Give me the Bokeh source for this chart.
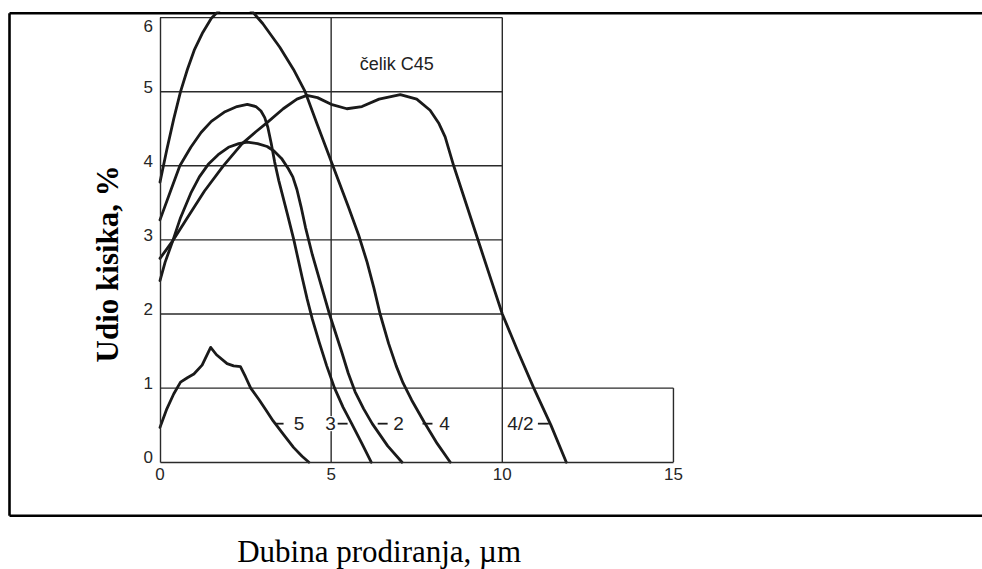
import math
from bokeh.plotting import figure
from bokeh.models import Range1d, FixedTicker, PrintfTickFormatter
from bokeh.core.properties import value
from bokeh.embed import file_html
from bokeh.resources import INLINE

# ---------------- data ----------------
# curve "4"
c4_x = [0, 0.2, 0.4, 0.6, 0.8, 1.0, 1.25, 1.5, 1.8, 2.1, 2.4, 2.7, 3.0, 3.5, 3.9, 4.24,
        4.6, 5.05, 5.5, 5.8, 6.05, 6.25, 6.43, 6.68, 6.9, 7.1, 7.35, 7.72, 8.1, 8.48]
c4_y = [3.78, 4.22, 4.63, 5.0, 5.3, 5.56, 5.8, 5.99, 6.13, 6.2, 6.18, 6.08, 5.92, 5.6, 5.3, 5.0,
        4.55, 4.0, 3.45, 3.07, 2.7, 2.35, 2.0, 1.6, 1.3, 1.07, 0.84, 0.54, 0.25, 0.0]
# curve "3"
c3_x = [0, 0.3, 0.58, 0.9, 1.2, 1.5, 1.9, 2.25, 2.55, 2.8, 2.95, 3.06, 3.15, 3.25, 3.35, 3.47,
        3.72, 3.91, 4.15, 4.3, 4.45, 4.65, 4.87, 5.1, 5.35, 5.6, 5.9, 6.17]
c3_y = [3.27, 3.65, 4.0, 4.25, 4.45, 4.6, 4.73, 4.8, 4.83, 4.8, 4.74, 4.65, 4.52, 4.3, 4.05, 3.8,
        3.35, 3.0, 2.5, 2.2, 1.93, 1.62, 1.3, 1.0, 0.74, 0.52, 0.25, 0.0]
# curve "2"
c2_x = [0, 0.15, 0.36, 0.6, 0.9, 1.15, 1.41, 1.7, 2.0, 2.3, 2.55, 2.85, 3.13, 3.33, 3.55,
        3.75, 3.88, 4.0, 4.12, 4.25, 4.45, 4.7, 4.95, 5.3, 5.5, 5.7, 5.95, 6.2, 6.65, 7.07]
c2_y = [2.45, 2.7, 2.97, 3.3, 3.63, 3.85, 4.02, 4.15, 4.25, 4.3, 4.32, 4.3, 4.26, 4.2, 4.1,
        3.96, 3.85, 3.68, 3.45, 3.17, 2.8, 2.4, 2.0, 1.5, 1.2, 0.95, 0.72, 0.52, 0.22, 0.0]
# curve "4/2"
c42_x = [0, 0.36, 0.8, 1.3, 1.85, 2.4, 2.8, 3.12, 3.6, 4.0, 4.29, 4.6, 5.0, 5.46, 5.9, 6.4,
         7.02, 7.5, 7.89, 8.15, 8.33, 8.58, 8.97, 9.36, 9.68, 10.0, 10.45, 10.92, 11.42, 11.87]
c42_y = [2.75, 2.98, 3.3, 3.66, 4.0, 4.3, 4.46, 4.58, 4.77, 4.9, 4.95, 4.92, 4.83, 4.77, 4.8, 4.9,
         4.96, 4.9, 4.75, 4.57, 4.39, 4.0, 3.45, 2.9, 2.45, 2.0, 1.5, 1.0, 0.5, 0.0]
# curve "5"
c5_x = [0, 0.2, 0.4, 0.6, 0.8, 0.99, 1.23, 1.48, 1.65, 1.96, 2.15, 2.35, 2.5, 2.65, 2.9,
        3.1, 3.3, 3.6, 3.9, 4.15, 4.35]
c5_y = [0.47, 0.72, 0.92, 1.08, 1.14, 1.19, 1.31, 1.55, 1.45, 1.33, 1.3, 1.29, 1.15, 1.0, 0.84,
        0.7, 0.56, 0.38, 0.2, 0.08, 0.0]

curve_labels = ["5", "3", "2", "4", "4/2"]
label_text_x = [4.06, 4.98, 6.97, 8.31, 10.53]
label_dash_x0 = [3.38, 5.19, 6.36, 7.67, 11.04]
label_dash_x1 = [3.61, 5.48, 6.65, 7.96, 11.36]
label_y = 0.52

x_ticks = [0, 5, 10, 15]
y_ticks = [0, 1, 2, 3, 4, 5, 6]
x_title = "Dubina prodiranja, µm"
y_title = "Udio kisika, %"
steel_label = "čelik C45"

# ---------------- geometry (canvas pixels -> data) ----------------
W, H = 982, 569
TOP = 11
PX0, PXU = 159.5, 34.23
PY0, PYU = 461.7, 74.1


def dx(px):
    return (px - PX0) / PXU


def dy(py):
    return (PY0 - py) / PYU


p = figure(width=W, height=H, output_backend="svg", toolbar_location=None,
           x_range=Range1d(dx(0), dx(W)), y_range=Range1d(dy(H), dy(TOP)),
           min_border_left=0, min_border_right=0, min_border_bottom=0, min_border_top=TOP,
           background_fill_color="white", border_fill_color="white")
p.outline_line_color = None
p.xgrid.visible = False
p.ygrid.visible = False

INK = "#1a1a1a"
GRID = "#2a2a2a"

# outer box (left, top, bottom; right side runs off the page)
bl, bt, bb, br = dx(9), dy(12.8), dy(515.3), dx(1010)
p.segment(x0=[bl, bl, bl], y0=[bb, bt, bb], x1=[bl, br, br], y1=[bt, bt, bb],
          line_color="black", line_width=2.6)

# plot box / grid lines built from the tick arrays
xmax_main = x_ticks[2]
ytop = y_ticks[-1]
gx0, gy0, gx1, gy1 = [], [], [], []
for v in y_ticks[1:]:
    gx0.append(0); gy0.append(v)
    gx1.append(x_ticks[-1] if v == 1 else xmax_main); gy1.append(v)
for v in x_ticks[1:]:
    gx0.append(v); gy0.append(0)
    gx1.append(v); gy1.append(ytop if v <= xmax_main else 1)
p.segment(x0=gx0, y0=gy0, x1=gx1, y1=gy1, line_color=GRID, line_width=1.4)

# curves
for xs, ys in [(c4_x, c4_y), (c3_x, c3_y), (c2_x, c2_y), (c42_x, c42_y), (c5_x, c5_y)]:
    p.line(xs, ys, line_color=INK, line_width=2.8, line_join="round", line_cap="round")

# curve labels with their little leader dashes
p.segment(x0=label_dash_x0, y0=[label_y] * 5, x1=label_dash_x1, y1=[label_y] * 5,
          line_color=INK, line_width=1.8)
p.text(x=label_text_x, y=[label_y] * 5, text=curve_labels,
       text_font=value("Liberation Sans"), text_font_size="19px", text_color="#222222",
       text_align="center", text_baseline="middle",
       background_fill_color="white", padding=1)

# steel label
p.text(x=[dx(359.3)], y=[dy(63.5)], text=[steel_label], text_font=value("Liberation Sans"),
       text_font_size="18px", text_color="#222222", text_align="left",
       text_baseline="middle")

# axis titles
p.text(x=[dx(106.5)], y=[dy(263.3)], text=[y_title], angle=math.pi / 2,
       text_font=value("Liberation Serif"), text_font_style="bold", text_font_size="31px",
       text_color="black", text_align="center", text_baseline="middle")
p.text(x=[dx(236.7)], y=[dy(550.5)], text=[x_title],
       text_font=value("Liberation Serif"), text_font_size="31px",
       text_color="black", text_align="left", text_baseline="middle")

# axes placed inside the frame
for ax in (p.xaxis, p.yaxis):
    ax.fixed_location = 0
    ax.axis_line_color = GRID
    ax.axis_line_width = 1.4
    ax.major_tick_line_color = None
    ax.minor_tick_line_color = None
    ax.major_tick_out = 0
    ax.major_tick_in = 0
    ax.major_label_text_font = "Liberation Sans"
    ax.major_label_text_font_size = "17px"
    ax.major_label_text_color = "#262626"
p.xaxis.bounds = (x_ticks[0], x_ticks[-1])
p.yaxis.bounds = (y_ticks[0], y_ticks[-1])
p.xaxis.ticker = FixedTicker(ticks=x_ticks)
p.xaxis.major_label_standoff = 6
# labels sit a little above their grid lines; the top one is pushed down into the box
y_label_pos = [v + 0.07 for v in y_ticks[:-1]] + [y_ticks[-1] - 0.12]
p.yaxis.ticker = FixedTicker(ticks=y_label_pos)
p.yaxis.formatter = PrintfTickFormatter(format="%.0f")
p.yaxis.major_label_standoff = 7

open("out.html", "w").write(file_html(p, INLINE))
